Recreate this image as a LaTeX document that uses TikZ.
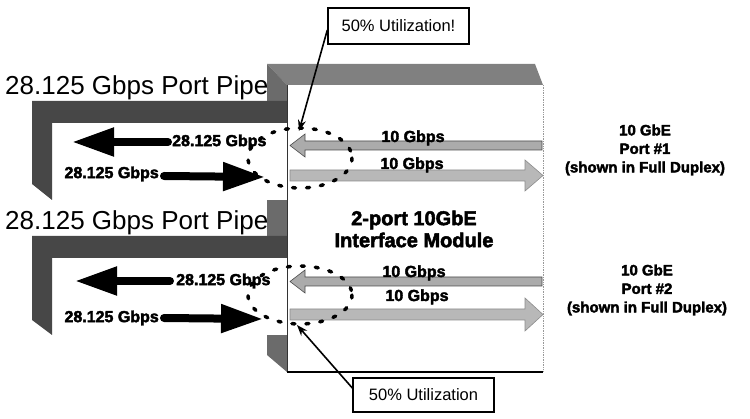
\documentclass[tikz,border=0pt]{standalone}
\usepackage{fontspec}
\setmainfont{Liberation Sans}
\newfontfamily\heavy[FakeBold=2.5]{Liberation Sans Bold}
\usetikzlibrary{arrows.meta}
\begin{document}
\begin{tikzpicture}[x=1pt,y=-1pt,
  pipeband/.style={fill=black!72},
  sideface/.style={fill=black!58},
  topface/.style={fill=black!50},
  blkarrow/.style={line width=8pt, line cap=round, -{Triangle[length=42pt,width=27pt]}},
  grayarrow/.style={fill=black!33, draw=black!70, line width=0.6pt},
  rate/.style={font=\heavy\fontsize{16}{16}\selectfont, inner sep=1pt},
  gb/.style={font=\heavy\fontsize{16}{16}\selectfont, inner sep=0pt},
  util/.style={draw, line width=1.4pt, fill=white, font=\fontsize{16.5}{16.5}\selectfont, minimum width=141pt, inner sep=0pt},
  dotring/.style={line width=3.5pt, dash pattern=on 3pt off 11pt, line cap=round},
  callarrow/.style={line width=1.6pt, -{Stealth[length=11pt,width=8pt]}},
  pipetitle/.style={font=\fontsize{26}{26}\selectfont, inner sep=0pt, anchor=base west},
  porttext/.style={font=\heavy\fontsize{15}{18.5}\selectfont, align=center, inner sep=0pt}
]
\useasboundingbox (0,0) rectangle (750,419);

% module: top and side faces
\fill[topface] (267,64) -- (535,64) -- (543,85) -- (287,85) -- cycle;
\fill[sideface] (267,64) -- (287,85) -- (287,372) -- (267,355) -- cycle;
% module front face edges
\draw[black!80, line width=0.7pt] (287,85) -- (287,372);
\draw[line width=1.3pt] (287,372) -- (543,372);
\draw[black!40, densely dotted, line width=0.7pt] (543,85) -- (543,372);

% pipe 1
\fill[white] (52,123) rectangle (287,200);
\fill[pipeband] (32,101) -- (287,101) -- (287,123) -- (52,123) -- (52,200) -- (32,184) -- cycle;
% pipe 2
\fill[white] (52,258) rectangle (287,335);
\fill[pipeband] (32,236) -- (287,236) -- (287,258) -- (52,258) -- (52,335) -- (32,320) -- cycle;

\node[pipetitle] (p1title) at (5,95) {28.125 Gbps Port Pipe};
\node[pipetitle] (p2title) at (5,230) {28.125 Gbps Port Pipe};

% gray 10 Gbps arrows, port 1
\draw[grayarrow] (290,145.5) -- (305,134) -- (305,141) -- (542,141) -- (542,150) -- (305,150) -- (305,157) -- cycle;
\draw[grayarrow, fill=black!28, draw=black!45] (290,170) -- (525,170) -- (525,160) -- (543,175.5) -- (525,191) -- (525,181) -- (290,181) -- cycle;
\node[gb, anchor=base] (g1a) at (413,142) {10 Gbps};
\node[gb, anchor=base] (g1b) at (412,169) {10 Gbps};
% gray 10 Gbps arrows, port 2
\draw[grayarrow] (290,281.5) -- (305,270) -- (305,277) -- (542,277) -- (542,286) -- (305,286) -- (305,293) -- cycle;
\draw[grayarrow, fill=black!28, draw=black!45] (290,309) -- (525,309) -- (525,298) -- (543,314.5) -- (525,331) -- (525,320) -- (290,320) -- cycle;
\node[gb, anchor=base] (g2a) at (414,277) {10 Gbps};
\node[gb, anchor=base] (g2b) at (417,301) {10 Gbps};

% black 28.125 Gbps arrows, port 1
\coordinate (a1s) at (168,142);
\coordinate (a1e) at (72,142);
\draw[blkarrow] (a1s) -- (a1e);
\node[rate, anchor=west] (r1a) at ([xshift=3pt]a1s) {28.125 Gbps};
\coordinate (b1s) at (164,176);
\coordinate (b1e) at (265,177);
\draw[blkarrow] (b1s) -- (b1e);
\node[rate, anchor=east] (r1b) at ([xshift=-4pt,yshift=2pt]b1s) {28.125 Gbps};
% black 28.125 Gbps arrows, port 2
\coordinate (a2s) at (170,281);
\coordinate (a2e) at (75,281);
\draw[blkarrow] (a2s) -- (a2e);
\node[rate, anchor=west] (r2a) at ([xshift=5pt]a2s) {28.125 Gbps};
\coordinate (b2s) at (164,318);
\coordinate (b2e) at (263,319);
\draw[blkarrow] (b2s) -- (b2e);
\node[rate, anchor=east] (r2b) at ([xshift=-4pt]b2s) {28.125 Gbps};

% module title
\node[font=\heavy\fontsize{20}{22}\selectfont, align=center, inner sep=0pt] (mod) at (414,229) {2-port 10GbE\\Interface Module};

% utilisation rings
\draw[dotring] (300,158) ellipse [x radius=52, y radius=30];
\draw[dotring] (300,295) ellipse [x radius=52, y radius=29];

% callouts
\node[util, minimum height=36pt] (c1) at (398.5,26) {50\% Utilization!};
\node[util, minimum height=34pt] (c2) at (423.5,395) {50\% Utilization};
\coordinate (t1) at (299,131);
\coordinate (t2) at (297,325);
\draw[callarrow] ([yshift=-4pt]c1.west) -- (t1);
\draw[callarrow] ([yshift=7pt]c2.west) -- (t2);

% port descriptions
\node[porttext] (port1) at (645,150) {10 GbE\\Port \#1\\(shown in Full Duplex)};
\node[porttext] (port2) at (647,290) {10 GbE\\Port \#2\\(shown in Full Duplex)};
\end{tikzpicture}
\end{document}
